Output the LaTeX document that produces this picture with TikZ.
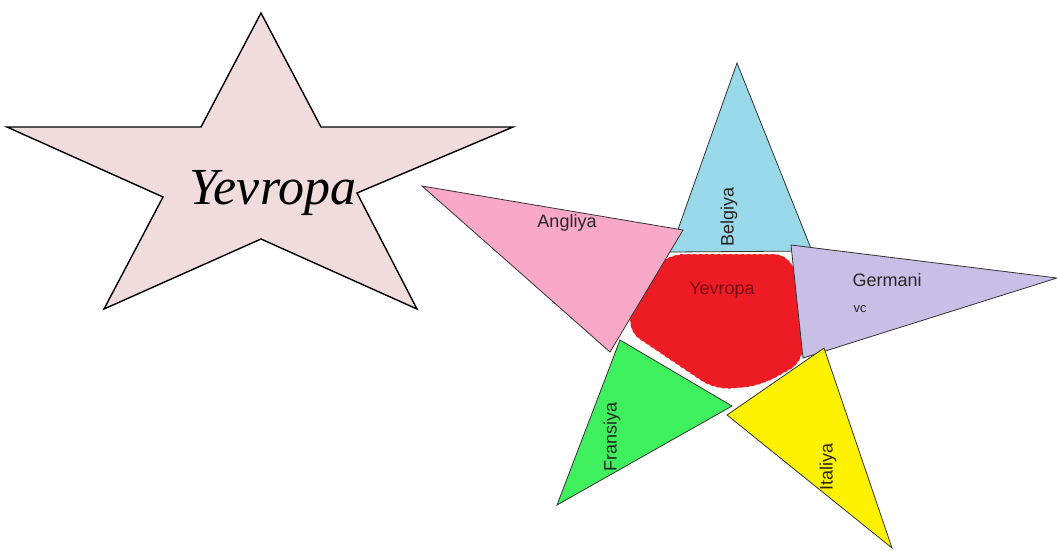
\documentclass[tikz,border=0pt]{standalone}
\usepackage{fontspec}
\setmainfont{Liberation Serif}
\setsansfont{Liberation Sans}
\definecolor{starfill}{HTML}{F0DCDC}
\definecolor{bel}{HTML}{99D9EA}
\definecolor{ang}{HTML}{F9A8C8}
\definecolor{ger}{HTML}{C8BFE7}
\definecolor{fra}{HTML}{3EF05E}
\definecolor{ita}{HTML}{FFF200}
\definecolor{eur}{HTML}{ED1C24}
\definecolor{eurtext}{HTML}{7A0A12}
\definecolor{edge}{HTML}{333333}
\tikzset{
  piece/.style={draw=edge, line width=0.8pt, line join=miter},
  lbl/.style={font=\sffamily\fontsize{18}{18}\selectfont, text=black!85, inner sep=0pt},
}
\begin{document}
\begin{tikzpicture}[x=1pt,y=-1pt]
\useasboundingbox[fill=white] (0,0) rectangle (1057,550);
% big star
\draw[fill=starfill, line width=1.4pt, line join=miter]
  (261,13) -- (321,127) -- (513,127) -- (357,193) -- (417,309) -- (261,239)
  -- (104,309) -- (163,197) -- (7,127) -- (201,127) -- cycle;
\node[font=\itshape\fontsize{52}{52}\selectfont, inner sep=0pt] (title) at (273,193) {Yevropa};
% centre
\draw[fill=eur, draw=white, dashed, line width=0.6pt, rounded corners=16pt]
  (668,254) -- (790,254) -- (798,285) -- (804,362) -- (760,386) -- (715,390)
  -- (626,330) -- (643,278) -- cycle;
\node[lbl, text=eurtext] (eur) at (722,290) {Yevropa};
% triangles
\draw[piece, fill=bel] (737,63) -- (812,251) -- (670,252) -- cycle;
\draw[piece, fill=ang] (422,186) -- (683,230) -- (610,352) -- cycle;
\draw[piece, fill=ger] (791,245) -- (1057,278) -- (803,358) -- cycle;
\draw[piece, fill=fra] (620,340) -- (732,406) -- (557,505) -- cycle;
\draw[piece, fill=ita] (824,348) -- (892,548) -- (727,415) -- cycle;
% labels
\node[lbl] (bel) at (729,217) [rotate=90] {Belgiya};
\node[lbl] (ang) at (567,223) {Angliya};
\node[lbl] (ger) at (887,280) {Germani};
\node[lbl, font=\sffamily\fontsize{13}{13}\selectfont] (ger2) at (860,309) {vc};
\node[lbl] (fra) at (612,437) [rotate=90] {Fransiya};
\node[lbl] (ita) at (828,467) [rotate=90] {Italiya};
\end{tikzpicture}
\end{document}
